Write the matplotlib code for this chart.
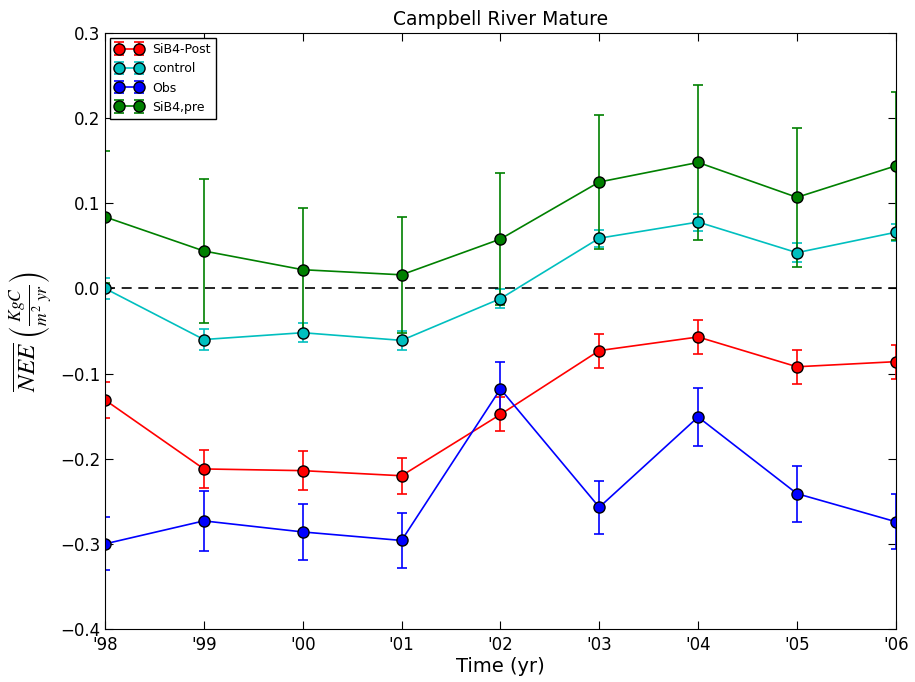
import numpy as np
import matplotlib
matplotlib.use('Agg')
import matplotlib.pyplot as plt

plt.rcParams['mathtext.fontset'] = 'stix'
plt.rcParams['xtick.direction'] = 'in'
plt.rcParams['ytick.direction'] = 'in'
plt.rcParams['xtick.top'] = True
plt.rcParams['ytick.right'] = True

#################### Data ####################
years = ["'98", "'99", "'00", "'01", "'02", "'03", "'04", "'05", "'06"]

post = [-0.131, -0.212, -0.214, -0.220, -0.148, -0.073, -0.057, -0.092, -0.086]
post_err = [0.021, 0.022, 0.023, 0.021, 0.020, 0.020, 0.020, 0.020, 0.020]

control = [0.000, -0.060, -0.052, -0.061, -0.012, 0.059, 0.078, 0.042, 0.066]
control_err = [0.012, 0.012, 0.011, 0.011, 0.011, 0.010, 0.010, 0.011, 0.010]

obs = [-0.300, -0.273, -0.286, -0.296, -0.118, -0.257, -0.151, -0.241, -0.274]
obs_err = [0.031, 0.035, 0.033, 0.032, 0.032, 0.031, 0.034, 0.033, 0.032]

pre = [0.084, 0.044, 0.022, 0.016, 0.058, 0.125, 0.148, 0.107, 0.144]
pre_err = [0.078, 0.085, 0.072, 0.068, 0.077, 0.079, 0.091, 0.082, 0.087]

#################### Plot ####################
fig = plt.figure(figsize=(9.15, 6.82), dpi=100)
ax = fig.add_axes([0.1148, 0.0777, 0.8642, 0.8739])

x = np.arange(len(years))
style = dict(marker='o', markersize=8, markeredgecolor='k', linewidth=1.2,
             capsize=3.5, elinewidth=1.2, capthick=1.2)

ax.errorbar(x, post, yerr=post_err, color='r', label='SiB4-Post', **style)
ax.errorbar(x, control, yerr=control_err, color='c', label='control', **style)
ax.errorbar(x, obs, yerr=obs_err, color='b', label='Obs', **style)
ax.errorbar(x, pre, yerr=pre_err, color='g', label='SiB4,pre', **style)

ax.axhline(0, color='k', linestyle='--', linewidth=1.2, dashes=(6, 4))

ax.set_xlim(0, len(years) - 1)
ax.set_ylim(-0.4, 0.3)
ax.set_xticks(x)
ax.set_xticklabels(years)
ax.set_yticks(np.arange(-0.4, 0.31, 0.1))
ax.tick_params(labelsize=12, length=6)
ax.tick_params(axis='x', pad=5)

ax.set_title('Campbell River Mature', fontsize=13.5)
ax.set_xlabel('Time (yr)', fontsize=14, labelpad=2)
ax.set_ylabel(r'$\overline{NEE}\ \left(\frac{KgC}{m^2\ yr}\right)$', fontsize=18, labelpad=4)

ax.legend(loc='upper left', numpoints=2, fontsize=9, fancybox=False,
          edgecolor='k', framealpha=1, borderaxespad=0.4, handlelength=2.2)

fig.savefig('out.png', dpi=100)
